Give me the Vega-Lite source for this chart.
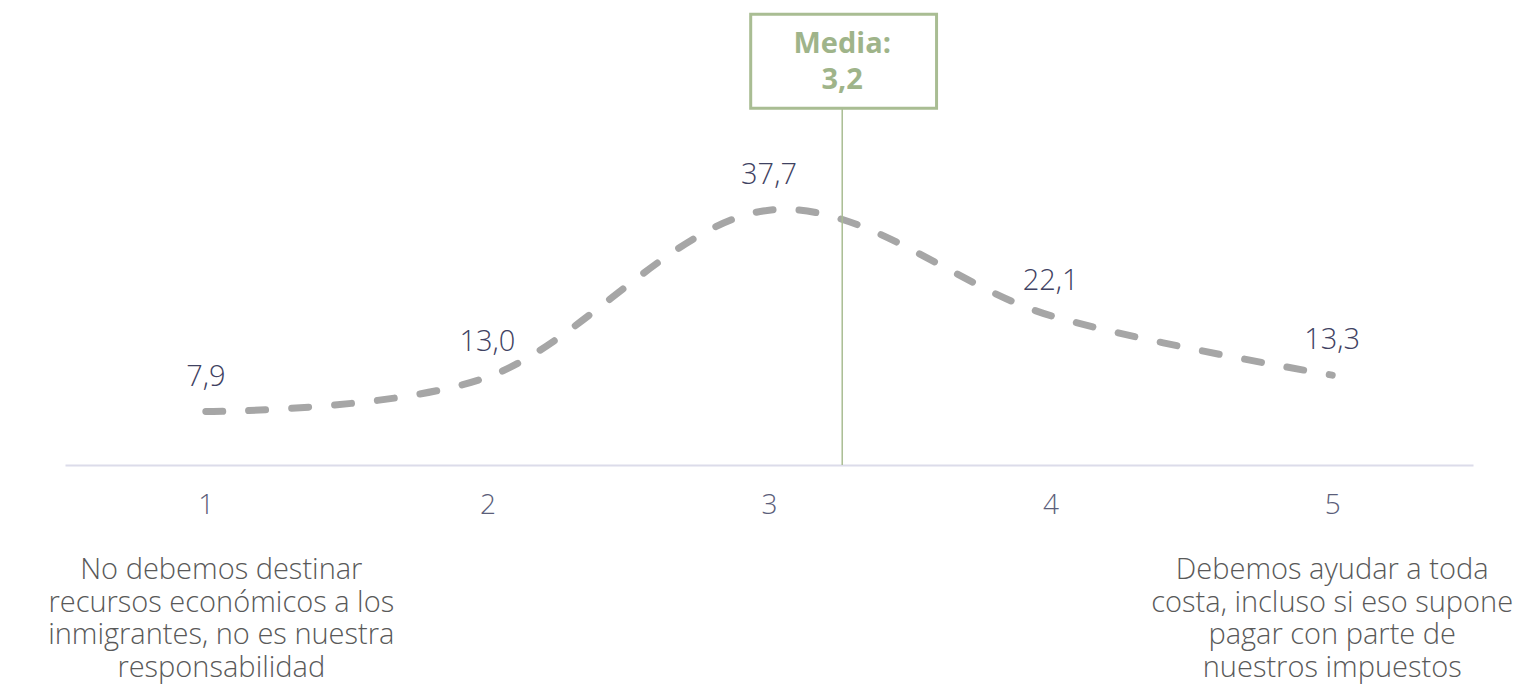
{
  "$schema": "https://vega.github.io/schema/vega-lite/v6.json",
  "width": 1408,
  "height": 465,
  "autosize": {"type": "none"},
  "padding": {"left": 65, "top": 0, "right": 54, "bottom": 219},
  "background": "white",
  "config": {"view": {"stroke": null}, "font": "Open Sans", "text": {"lineBreak": "\n"}},
  "datasets": {
    "serie": [
      {"x": 1, "v": 7.9, "label": "7,9"},
      {"x": 2, "v": 13.0, "label": "13,0"},
      {"x": 3, "v": 37.7, "label": "37,7"},
      {"x": 4, "v": 22.1, "label": "22,1"},
      {"x": 5, "v": 13.3, "label": "13,3"}
    ],
    "media": [{"media": 3.26, "texto": "Media:\n3,2"}],
    "extremos": [
      {"x": 1.055, "lado": "izq", "texto": "No debemos destinar\nrecursos económicos a los\ninmigrantes, no es nuestra\nresponsabilidad"},
      {"x": 5, "lado": "der", "texto": "Debemos ayudar a toda\ncosta, incluso si eso supone\npagar con parte de\nnuestros impuestos"}
    ]
  },
  "layer": [
    {
      "data": {"name": "serie"},
      "mark": {"type": "line", "interpolate": "cardinal", "strokeDash": [17, 26], "strokeCap": "round", "strokeWidth": 7, "color": "#a6a6a6"},
      "encoding": {
        "x": {
          "field": "x", "type": "quantitative",
          "scale": {"domain": [0.5, 5.5], "nice": false, "zero": false},
          "axis": {"values": [1, 2, 3, 4, 5], "format": "d", "ticks": false, "grid": false, "title": null,
                   "domainColor": "#dcdcea", "domainWidth": 2, "labelFontSize": 28, "labelFontWeight": 300, "labelColor": "#5b5e7a",
                   "labelBaseline": "middle", "labelPadding": 40, "labelFlush": false, "labelFont": "Open Sans"}
        },
        "y": {"field": "v", "type": "quantitative", "scale": {"domain": [0, 68.8], "nice": false}, "axis": null}
      }
    },
    {
      "data": {"name": "serie"},
      "mark": {"type": "text", "dy": -35, "baseline": "middle", "align": "center", "fontSize": 29, "fontWeight": 300, "color": "#3f4262"},
      "encoding": {
        "x": {"field": "x", "type": "quantitative"},
        "y": {"field": "v", "type": "quantitative"},
        "text": {"field": "label"}
      }
    },
    {
      "data": {"name": "media"},
      "mark": {"type": "rule", "color": "#a9bd93", "strokeWidth": 1.5},
      "encoding": {
        "x": {"field": "media", "type": "quantitative"},
        "y": {"datum": 52.8},
        "y2": {"datum": 0}
      }
    },
    {
      "data": {"name": "media"},
      "mark": {"type": "rect", "fill": "white", "stroke": "#a9bd93", "strokeWidth": 3},
      "encoding": {
        "x": {"datum": 2.935},
        "x2": {"datum": 3.595},
        "y": {"datum": 66.7},
        "y2": {"datum": 52.8}
      }
    },
    {
      "data": {"name": "media"},
      "mark": {"type": "text", "baseline": "middle", "align": "center", "fontSize": 29, "fontWeight": "bold", "lineHeight": 36, "color": "#9fb48a"},
      "encoding": {
        "x": {"field": "media", "type": "quantitative"},
        "y": {"datum": 62.3},
        "text": {"field": "texto"}
      }
    },
    {
      "data": {"name": "extremos"},
      "mark": {"type": "text", "baseline": "middle", "align": "center", "fontSize": 29, "fontWeight": 300, "lineHeight": 32.5, "color": "#595959"},
      "encoding": {
        "x": {"field": "x", "type": "quantitative"},
        "y": {"datum": -15.6},
        "text": {"field": "texto"}
      }
    }
  ]
}
